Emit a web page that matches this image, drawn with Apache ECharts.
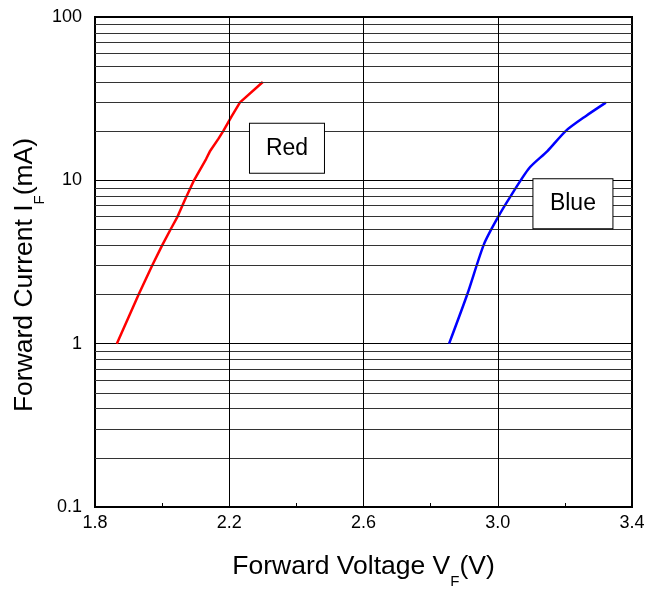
<!DOCTYPE html>
<html><head><meta charset="utf-8">
<script src="https://cdn.jsdelivr.net/npm/echarts@6/dist/echarts.min.js"></script>
<style>html,body{margin:0;padding:0;background:#fff}#c{width:646px;height:589px}</style>
</head><body><div id="c"></div>
<script>
// Data (Forward Voltage V, Forward Current mA)
const redVoltage = [1.865, 1.93, 1.97, 2.0, 2.025, 2.046, 2.068, 2.095, 2.131, 2.142, 2.168, 2.182, 2.207, 2.232, 2.30];
const redCurrent = [1, 2, 3, 4, 5, 6, 7.6, 10, 13.5, 15, 18, 20, 24.6, 30, 40];
const blueVoltage = [2.855, 2.909, 2.959, 3.0, 3.039, 3.094, 3.148, 3.203, 3.263, 3.322];
const blueCurrent = [1, 2, 4.07, 5.92, 8.04, 11.9, 15.1, 20.1, 24.8, 29.9];
const xTickLabels = ['1.8', '2.2', '2.6', '3.0', '3.4'];
const yTickLabels = ['0.1', '1', '10', '100'];
const yMinorGrid = [0.2,0.3,0.4,0.5,0.6,0.7,0.8,0.9,2,3,4,5,6,7,8,9,20,30,40,50,60,70,80,90];
const xMajorGrid = [2.2, 2.6, 3.0];
const redLabel = {name: 'Red', coord: [2.372, 15.7]};
const blueLabel = {name: 'Blue', coord: [3.224, 7.18]};

const chart = echarts.init(document.getElementById('c'));
const font = 'Liberation Sans, Arial, sans-serif';
const boxLabel = (w) => ({
  show: true, formatter: '{b}', fontFamily: font, fontSize: 23, color: '#000',
  backgroundColor: '#fff', borderColor: '#000', borderWidth: 1,
  width: w, height: 49, lineHeight: 49, align: 'center', verticalAlign: 'middle', position: 'inside'
});
const titleRich = {
  a: {fontFamily: font, fontSize: 26.5, color: '#000', lineHeight: 30},
  s: {fontFamily: font, fontSize: 15, color: '#000', verticalAlign: 'bottom', lineHeight: 30, padding: [0,0,-7,0]}
};
chart.setOption({
  animation: false,
  grid: {left: 95, right: 14, top: 17, bottom: 82, show: true, borderColor: '#000', borderWidth: 2,
    backgroundColor: 'transparent', containLabel: false, outerBoundsMode: 'none'},
  xAxis: {
    type: 'value', min: 1.8, max: 3.4, interval: 0.2,
    name: '{a|Forward Voltage V}{s|F}{a|(V)}', nameLocation: 'middle', nameGap: 45,
    nameTextStyle: {rich: titleRich},
    axisLine: {show: false},
    axisTick: {show: true, inside: true, length: 4, lineStyle: {color: '#000'}},
    axisLabel: {fontFamily: font, fontSize: 18, color: '#000', margin: 7,
      formatter: v => { const s = v.toFixed(1); return xTickLabels.includes(s) ? s : ''; }},
    splitLine: {show: false}
  },
  yAxis: {
    type: 'log', logBase: 10, min: 0.1, max: 100,
    name: '{a|Forward Current I}{s|F}{a|(mA)}', nameLocation: 'middle', nameGap: 55, nameRotate: 90,
    nameMoveOverlap: false,
    nameTextStyle: {rich: titleRich, padding: [0, 26, 0, 0]},
    axisLine: {show: false},
    axisTick: {show: false},
    axisLabel: {fontFamily: font, fontSize: 18, color: '#000', margin: 13,
      formatter: v => { const s = String(+v.toPrecision(3)); return yTickLabels.includes(s) ? s : ''; }},
    splitLine: {show: true, lineStyle: {color: '#000', width: 1}}
  },
  series: [
    {
      type: 'line', data: [], z: 1, silent: true,
      markLine: {
        silent: true, symbol: 'none', animation: false, label: {show: false},
        lineStyle: {color: '#333', width: 1, type: 'solid'},
        data: yMinorGrid.map(v => ({yAxis: v})).concat(xMajorGrid.map(v => ({xAxis: v, lineStyle: {color: '#000'}})))
      }
    },
    {
      name: 'Red', type: 'line', z: 3, showSymbol: false, symbol: 'none', smooth: false,
      lineStyle: {color: '#ff0000', width: 2.5}, itemStyle: {color: '#ff0000'},
      data: redVoltage.map((v, i) => [v, redCurrent[i]]),
      markPoint: {symbol: 'rect', symbolSize: 1, itemStyle: {color: 'transparent'}, label: boxLabel(74),
        data: [{name: redLabel.name, coord: redLabel.coord}]}
    },
    {
      name: 'Blue', type: 'line', z: 3, showSymbol: false, symbol: 'none', smooth: 0.25,
      lineStyle: {color: '#0000ff', width: 2.5}, itemStyle: {color: '#0000ff'},
      data: blueVoltage.map((v, i) => [v, blueCurrent[i]]),
      markPoint: {symbol: 'rect', symbolSize: 1, itemStyle: {color: 'transparent'}, label: boxLabel(79),
        data: [{name: blueLabel.name, coord: blueLabel.coord}]}
    }
  ]
});
</script></body></html>
